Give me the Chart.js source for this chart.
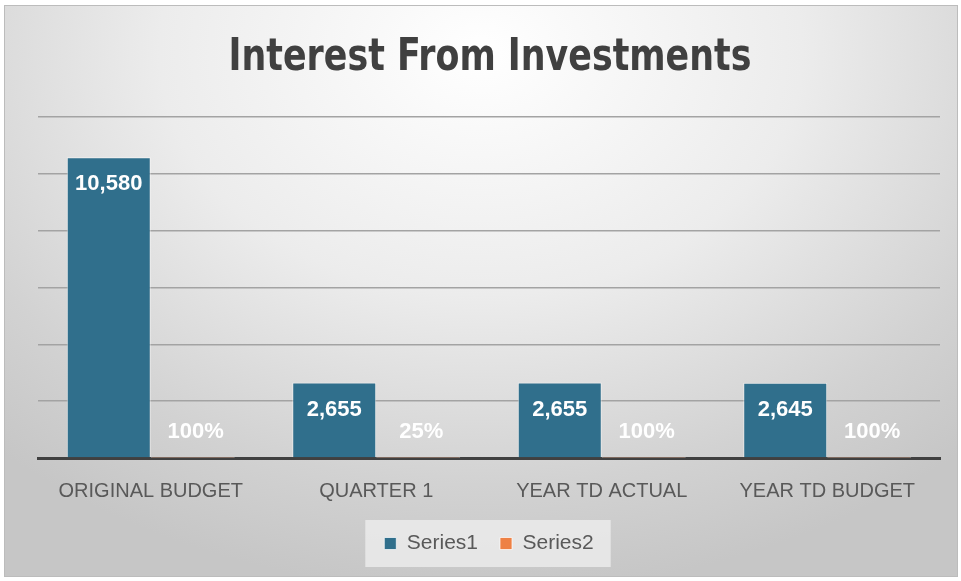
<!DOCTYPE html>
<html>
<head>
<meta charset="utf-8">
<script src="https://cdn.jsdelivr.net/npm/chart.js@4.4.1/dist/chart.umd.min.js"></script>
<style>
  html, body { margin: 0; padding: 0; background: #ffffff; }
  #frame {
    position: absolute; left: 4px; top: 5px; width: 952px; height: 570px;
    border: 1px solid #bcbcbc;
    background: radial-gradient(ellipse 75% 95% at 50% 8%, #ffffff 0%, #ececec 45%, #d2d2d2 80%, #c6c6c6 100%);
  }
  #wrap { position: absolute; left: 0; top: 0; width: 961px; height: 581px; }
</style>
</head>
<body>
<div id="frame"></div>
<div id="wrap"><canvas id="chart" width="961" height="581"></canvas></div>
<script>
// data
const chartTitle = 'Interest From Investments';
const categories = ['ORIGINAL BUDGET', 'QUARTER 1', 'YEAR TD ACTUAL', 'YEAR TD BUDGET'];
const series1 = [10580, 2655, 2655, 2645];
const series2 = [1, 0.25, 1, 1];   // shown as percentages
const yTicks = [0, 2000, 4000, 6000, 8000, 10000, 12000];

const labelPlugin = {
    id: 'barLabels',
    beforeDraw(chart) {
        // legend backing box
        const boxes = chart.legend.legendHitBoxes;
        if (!boxes || !boxes.length) return;
        let l = Infinity, r = -Infinity, t = Infinity, b = -Infinity;
        boxes.forEach(h => {
            l = Math.min(l, h.left); r = Math.max(r, h.left + h.width);
            t = Math.min(t, h.top); b = Math.max(b, h.top + h.height);
        });
        const ctx = chart.ctx;
        ctx.save();
        ctx.fillStyle = 'rgba(235,235,235,0.85)';
        ctx.fillRect(l - 19, t - 13, (r - l) + 36, (b - t) + 26);
        ctx.restore();
    },
    afterDraw(chart) {
        // condensed title (no narrow font installed, so squeeze it a bit)
        const ctx = chart.ctx;
        ctx.save();
        ctx.translate(490, 70);
        ctx.scale(0.88, 1);
        ctx.font = 'bold 44px "DejaVu Sans Condensed", "Liberation Sans", sans-serif';
        ctx.fillStyle = '#404040';
        ctx.textAlign = 'center';
        ctx.textBaseline = 'alphabetic';
        ctx.fillText(chartTitle, 0, 0);
        ctx.restore();
    },
    afterDatasetsDraw(chart) {
        const ctx = chart.ctx;
        ctx.save();
        ctx.font = 'bold 22px "Liberation Sans", Arial, sans-serif';
        ctx.fillStyle = '#ffffff';
        ctx.textAlign = 'center';
        ctx.textBaseline = 'middle';
        chart.getDatasetMeta(0).data.forEach((bar, i) => {
            ctx.fillText(series1[i].toLocaleString('en-US'), bar.x, bar.y + 27);
        });
        chart.getDatasetMeta(1).data.forEach((bar, i) => {
            ctx.fillText(Math.round(series2[i] * 100) + '%', bar.x + 3, bar.base - 25);
        });
        ctx.restore();
    }
};

new Chart(document.getElementById('chart'), {
    type: 'bar',
    data: {
        labels: categories,
        datasets: [
            {
                label: 'Series1',
                data: series1,
                backgroundColor: '#306f8c',
                borderColor: 'rgba(255,255,255,0.55)',
                borderWidth: 1,
                categoryPercentage: 0.745,
                barPercentage: 1
            },
            {
                label: 'Series2',
                data: series2,
                backgroundColor: '#ee8145',
                borderColor: 'rgba(255,255,255,0.55)',
                borderWidth: 1,
                categoryPercentage: 0.745,
                barPercentage: 1
            }
        ]
    },
    options: {
        responsive: false,
        animation: false,
        layout: { padding: { left: 38, right: 21, top: 117, bottom: 17 } },
        plugins: {
            title: { display: false },
            legend: {
                position: 'bottom',
                labels: {
                    color: '#595959',
                    font: { family: '"Liberation Sans", Arial, sans-serif', size: 21 },
                    boxWidth: 12,
                    boxHeight: 12,
                    padding: 22,
                    generateLabels(chart) {
                        return chart.data.datasets.map((ds, i) => ({
                            text: ds.label,
                            fillStyle: ds.backgroundColor,
                            strokeStyle: 'rgba(255,255,255,0.7)',
                            lineWidth: 1,
                            fontColor: '#595959',
                            datasetIndex: i
                        }));
                    }
                }
            },
            tooltip: { enabled: false }
        },
        scales: {
            x: {
                grid: { display: false },
                border: { display: true, color: '#404040', width: 3 },
                ticks: {
                    color: '#595959',
                    font: { family: '"Liberation Sans", Arial, sans-serif', size: 20 },
                    padding: 13
                },
                afterFit(scale) { scale.height = scale.height - 5; }
            },
            y: {
                min: yTicks[0],
                max: yTicks[yTicks.length - 1],
                afterBuildTicks(scale) { scale.ticks = yTicks.map(v => ({ value: v })); },
                ticks: { display: false },
                border: { display: false },
                grid: {
                    drawTicks: false,
                    color: ctx => ctx.tick && ctx.tick.value === 0 ? 'rgba(0,0,0,0)' : '#a3a3a3',
                    lineWidth: 1.5
                }
            }
        }
    },
    plugins: [labelPlugin]
});
</script>
</body>
</html>
